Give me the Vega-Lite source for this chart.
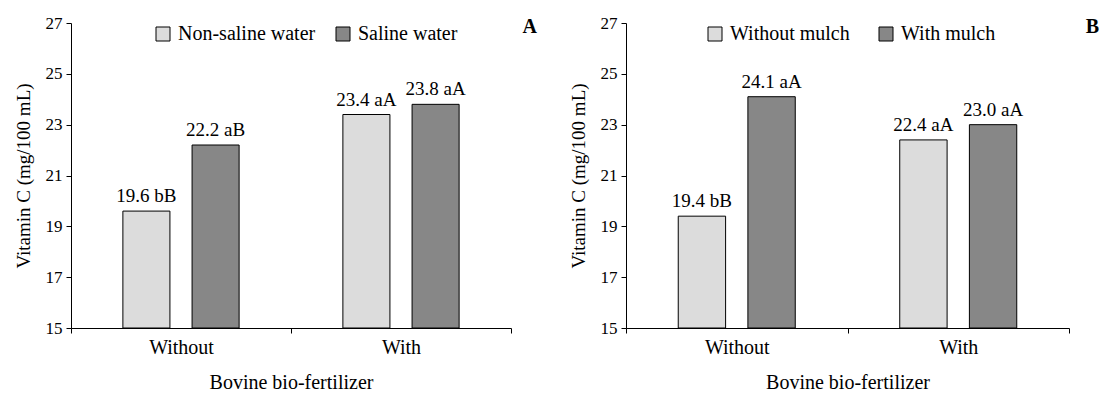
{
  "$schema": "https://vega.github.io/schema/vega-lite/v6.json",
  "padding": {"left": 14, "top": 14, "right": 5, "bottom": 0},
  "spacing": 32,
  "config": {
    "font": "Liberation Serif",
    "view": {"stroke": null},
    "axis": {
      "labelFont": "Liberation Serif",
      "titleFont": "Liberation Serif",
      "labelColor": "black",
      "titleColor": "black",
      "domainColor": "black",
      "tickColor": "black",
      "grid": false,
      "titleFontWeight": "normal"
    },
    "legend": {
      "labelFont": "Liberation Serif",
      "labelFontSize": 20,
      "labelColor": "black",
      "title": null,
      "orient": "none",
      "direction": "horizontal",
      "symbolType": "square",
      "symbolSize": 196,
      "symbolStrokeColor": "black",
      "symbolStrokeWidth": 1,
      "labelOffset": 5,
      "padding": 0
    }
  },
  "resolve": {
    "scale": {"color": "independent", "xOffset": "independent", "x": "independent", "y": "independent"},
    "legend": {"color": "independent"}
  },
  "hconcat": [
    {
      "width": 440,
      "height": 305,
      "title": {"text": "A", "anchor": "end", "frame": "group", "font": "Liberation Serif", "fontSize": 20, "fontWeight": "bold", "color": "black", "offset": -23, "dx": 26},
      "data": {"values": [
        {"fert": "Without", "group": "Non-saline water", "value": 19.6, "label": "19.6 bB"},
        {"fert": "Without", "group": "Saline water", "value": 22.2, "label": "22.2 aB"},
        {"fert": "With", "group": "Non-saline water", "value": 23.4, "label": "23.4 aA"},
        {"fert": "With", "group": "Saline water", "value": 23.8, "label": "23.8 aA"}
      ]},
      "encoding": {
        "x": {"field": "fert", "type": "nominal", "sort": ["Without", "With"], "scale": {"paddingInner": 0, "paddingOuter": 0},
          "axis": {"title": "Bovine bio-fertilizer", "labelAngle": 0, "tickBand": "extent", "tickSize": 5, "labelFontSize": 20, "titleFontSize": 20, "labelPadding": 4, "titlePadding": 15}},
        "xOffset": {"field": "group", "type": "nominal", "sort": ["Non-saline water", "Saline water"], "scale": {"paddingInner": 0.32, "paddingOuter": 0.75}},
        "y": {"field": "value", "type": "quantitative", "scale": {"domain": [15, 27], "nice": false, "zero": false},
          "axis": {"title": "Vitamin C (mg/100 mL)", "values": [15, 17, 19, 21, 23, 25, 27], "tickSize": 5, "labelFontSize": 17, "titleFontSize": 19, "labelPadding": 4, "titlePadding": 12}}
      },
      "layer": [
        {
          "mark": {"type": "bar", "stroke": "black", "strokeWidth": 1},
          "encoding": {
            "y2": {"datum": 15},
            "color": {"field": "group", "type": "nominal", "sort": ["Non-saline water", "Saline water"],
              "scale": {"domain": ["Non-saline water", "Saline water"], "range": ["#dcdcdc", "#878787"]},
              "legend": {"legendX": 82, "legendY": 1, "columnPadding": 17}}
          }
        },
        {
          "mark": {"type": "text", "baseline": "bottom", "dy": -5, "fontSize": 19, "color": "black"},
          "encoding": {"text": {"field": "label"}}
        }
      ]
    },
    {
      "width": 443,
      "height": 305,
      "title": {"text": "B", "anchor": "end", "frame": "group", "font": "Liberation Serif", "fontSize": 20, "fontWeight": "bold", "color": "black", "offset": -23, "dx": 30},
      "data": {"values": [
        {"fert": "Without", "group": "Without mulch", "value": 19.4, "label": "19.4 bB"},
        {"fert": "Without", "group": "With mulch", "value": 24.1, "label": "24.1 aA"},
        {"fert": "With", "group": "Without mulch", "value": 22.4, "label": "22.4 aA"},
        {"fert": "With", "group": "With mulch", "value": 23.0, "label": "23.0 aA"}
      ]},
      "encoding": {
        "x": {"field": "fert", "type": "nominal", "sort": ["Without", "With"], "scale": {"paddingInner": 0, "paddingOuter": 0},
          "axis": {"title": "Bovine bio-fertilizer", "labelAngle": 0, "tickBand": "extent", "tickSize": 5, "labelFontSize": 20, "titleFontSize": 20, "labelPadding": 4, "titlePadding": 15}},
        "xOffset": {"field": "group", "type": "nominal", "sort": ["Without mulch", "With mulch"], "scale": {"paddingInner": 0.32, "paddingOuter": 0.75}},
        "y": {"field": "value", "type": "quantitative", "scale": {"domain": [15, 27], "nice": false, "zero": false},
          "axis": {"title": "Vitamin C (mg/100 mL)", "values": [15, 17, 19, 21, 23, 25, 27], "tickSize": 5, "labelFontSize": 17, "titleFontSize": 19, "labelPadding": 4, "titlePadding": 12}}
      },
      "layer": [
        {
          "mark": {"type": "bar", "stroke": "black", "strokeWidth": 1},
          "encoding": {
            "y2": {"datum": 15},
            "color": {"field": "group", "type": "nominal", "sort": ["Without mulch", "With mulch"],
              "scale": {"domain": ["Without mulch", "With mulch"], "range": ["#dcdcdc", "#878787"]},
              "legend": {"legendX": 79, "legendY": 1, "columnPadding": 26}}
          }
        },
        {
          "mark": {"type": "text", "baseline": "bottom", "dy": -5, "fontSize": 19, "color": "black"},
          "encoding": {"text": {"field": "label"}}
        }
      ]
    }
  ]
}
